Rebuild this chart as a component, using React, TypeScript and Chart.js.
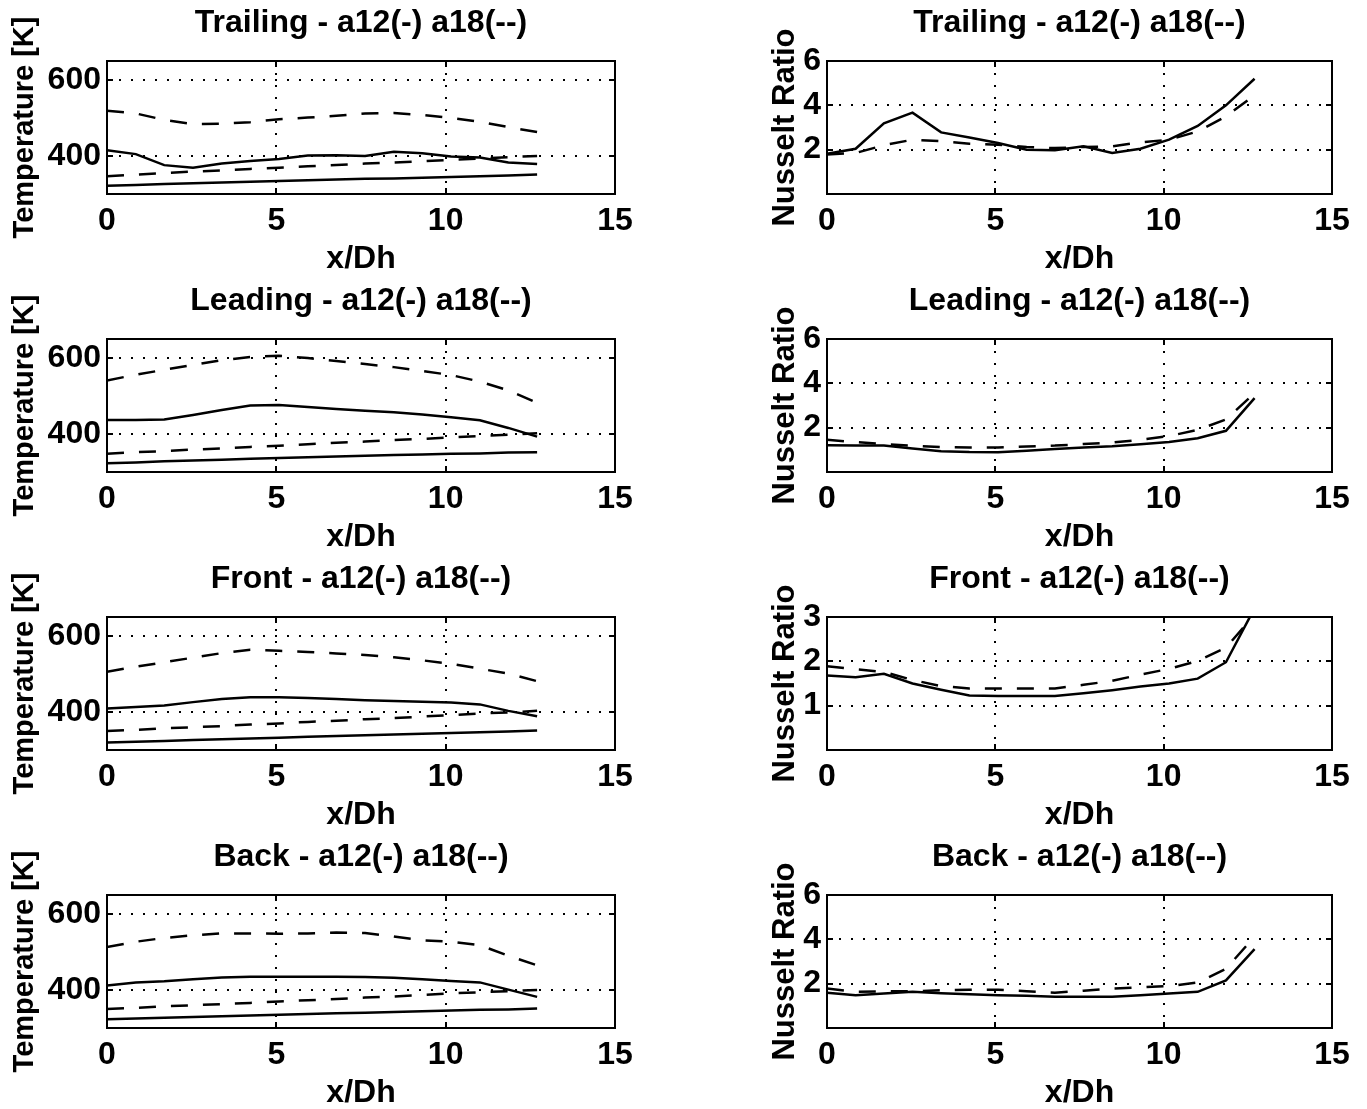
import React, { useEffect, useRef } from 'react';
import { Chart, registerables } from 'chart.js';

Chart.register(...registerables);

// Axial stations along the channel (x/Dh)
const XDH = [0, 0.85, 1.69, 2.54, 3.39, 4.23, 5.08, 5.93, 6.77, 7.62, 8.47, 9.31, 10.16, 11.01, 11.85, 12.7];

const X_TICKS = [0, 5, 10, 15];
const TEMP_TICKS = [400, 600];
const NU_TICKS = [2, 4, 6];
const NU_FRONT_TICKS = [1, 2, 3];

const TITLES = ['Trailing - a12(-) a18(--)', 'Leading - a12(-) a18(--)', 'Front - a12(-) a18(--)', 'Back - a12(-) a18(--)'];
const TEMP_LABEL = 'Temperature [K]';
const NU_LABEL = 'Nusselt Ratio';
const X_LABEL = 'x/Dh';

// Temperatures [K]: wall and bulk for the a12 (solid) and a18 (dashed) cases
const TRAIL_WALL_A12 = [415, 405, 376, 369, 380, 387, 392, 401, 402, 400, 411, 407, 399, 396, 383, 379];
const TRAIL_WALL_A18 = [519, 512, 495, 484, 485, 489, 497, 501, 506, 512, 513, 508, 500, 490, 476, 463];
const TRAIL_BULK_A12 = [322, 324, 326, 328, 330, 332, 334, 336, 338, 340, 341, 343, 345, 347, 349, 351];
const TRAIL_BULK_A18 = [347, 351, 355, 359, 362, 366, 369, 373, 376, 380, 383, 386, 390, 393, 397, 400];

const LEAD_WALL_A12 = [437, 437, 438, 450, 463, 475, 476, 471, 466, 461, 457, 451, 444, 436, 416, 393];
const LEAD_WALL_A18 = [541, 556, 569, 582, 594, 603, 606, 600, 592, 584, 576, 566, 555, 538, 515, 482];
const LEAD_BULK_A12 = [323, 325, 328, 330, 332, 335, 337, 339, 341, 343, 345, 346, 348, 349, 351, 352];
const LEAD_BULK_A18 = [348, 352, 355, 359, 362, 366, 369, 373, 377, 380, 384, 387, 391, 395, 398, 402];

const FRONT_WALL_A12 = [409, 413, 417, 426, 434, 439, 439, 437, 434, 431, 429, 427, 425, 420, 403, 389];
const FRONT_WALL_A18 = [506, 519, 531, 543, 555, 564, 561, 558, 554, 550, 544, 536, 527, 514, 501, 481];
const FRONT_BULK_A12 = [320, 322, 324, 326, 328, 330, 332, 335, 337, 339, 341, 343, 345, 347, 349, 351];
const FRONT_BULK_A18 = [350, 353, 357, 360, 363, 367, 370, 374, 377, 381, 384, 388, 392, 396, 399, 403];

const BACK_WALL_A12 = [412, 420, 423, 428, 433, 435, 435, 435, 435, 434, 432, 428, 424, 420, 401, 382];
const BACK_WALL_A18 = [513, 527, 537, 544, 549, 549, 548, 549, 551, 550, 541, 531, 527, 518, 490, 465];
const BACK_BULK_A12 = [323, 325, 327, 329, 331, 333, 335, 337, 339, 340, 342, 344, 346, 348, 349, 351];
const BACK_BULK_A18 = [350, 353, 357, 360, 363, 366, 370, 373, 376, 380, 383, 387, 391, 394, 397, 400];

// Nusselt number ratios
const TRAIL_NU_A12 = [1.82, 2.04, 3.19, 3.67, 2.78, 2.55, 2.3, 2.0, 1.97, 2.15, 1.85, 2.04, 2.45, 3.07, 4.0, 5.2];
const TRAIL_NU_A18 = [1.78, 1.85, 2.2, 2.45, 2.38, 2.27, 2.22, 2.12, 2.07, 2.12, 2.15, 2.33, 2.45, 2.82, 3.5, 4.46];
const LEAD_NU_A12 = [1.21, 1.2, 1.19, 1.06, 0.94, 0.9, 0.89, 0.96, 1.04, 1.1, 1.16, 1.25, 1.35, 1.52, 1.86, 3.33];
const LEAD_NU_A18 = [1.45, 1.35, 1.26, 1.18, 1.12, 1.11, 1.11, 1.15, 1.19, 1.26, 1.33, 1.45, 1.62, 1.9, 2.37, 3.56];
const FRONT_NU_A12 = [1.68, 1.64, 1.72, 1.5, 1.36, 1.23, 1.22, 1.22, 1.22, 1.28, 1.35, 1.43, 1.5, 1.61, 1.98, 3.2];
const FRONT_NU_A18 = [1.89, 1.82, 1.76, 1.58, 1.44, 1.39, 1.39, 1.39, 1.39, 1.47, 1.56, 1.7, 1.83, 2.01, 2.31, 3.05];
const BACK_NU_A12 = [1.59, 1.48, 1.56, 1.63, 1.57, 1.52, 1.48, 1.45, 1.41, 1.41, 1.41, 1.48, 1.56, 1.63, 2.15, 3.56];
const BACK_NU_A18 = [1.78, 1.63, 1.65, 1.66, 1.7, 1.72, 1.73, 1.66, 1.59, 1.68, 1.78, 1.84, 1.89, 2.05, 2.67, 4.12];

const FONT_FAMILY = "'Liberation Sans', Arial, Helvetica, sans-serif";
const FONT_SIZE = 32;
const FONT = { family: FONT_FAMILY, size: FONT_SIZE, weight: 'bold' as const, lineHeight: 1.2 };

const DASH = [17, 15];
const LINE_W = 2.5;

type Series = { values: number[]; dashed: boolean };
type PanelCfg = {
  title: string;
  yLabel: string;
  yLabelSize: number;
  yMin: number;
  yMax: number;
  yTicks: number[];
  series: Series[];
  row: number;
  col: number;
};

const tempPanel = (row: number, wallA12: number[], wallA18: number[], bulkA12: number[], bulkA18: number[]): PanelCfg => ({
  title: TITLES[row],
  yLabel: TEMP_LABEL,
  yLabelSize: 29,
  yMin: 300,
  yMax: 650,
  yTicks: TEMP_TICKS,
  series: [
    { values: wallA12, dashed: false },
    { values: bulkA12, dashed: false },
    { values: wallA18, dashed: true },
    { values: bulkA18, dashed: true },
  ],
  row,
  col: 0,
});

const nuPanel = (row: number, a12: number[], a18: number[], yMax: number, ticks: number[]): PanelCfg => ({
  title: TITLES[row],
  yLabel: NU_LABEL,
  yLabelSize: 31,
  yMin: 0,
  yMax,
  yTicks: ticks,
  series: [
    { values: a12, dashed: false },
    { values: a18, dashed: true },
  ],
  row,
  col: 1,
});

const PANELS: PanelCfg[] = [
  tempPanel(0, TRAIL_WALL_A12, TRAIL_WALL_A18, TRAIL_BULK_A12, TRAIL_BULK_A18),
  nuPanel(0, TRAIL_NU_A12, TRAIL_NU_A18, 6, NU_TICKS),
  tempPanel(1, LEAD_WALL_A12, LEAD_WALL_A18, LEAD_BULK_A12, LEAD_BULK_A18),
  nuPanel(1, LEAD_NU_A12, LEAD_NU_A18, 6, NU_TICKS),
  tempPanel(2, FRONT_WALL_A12, FRONT_WALL_A18, FRONT_BULK_A12, FRONT_BULK_A18),
  nuPanel(2, FRONT_NU_A12, FRONT_NU_A18, 3, NU_FRONT_TICKS),
  tempPanel(3, BACK_WALL_A12, BACK_WALL_A18, BACK_BULK_A12, BACK_BULK_A18),
  nuPanel(3, BACK_NU_A12, BACK_NU_A18, 6, NU_TICKS),
];

// Canvas geometry per column: plot box edges and label offsets
const ROW_PITCH = 278;
const CANVAS_H = 278;
const BOX_TOP = 61;
const BOX_H = 133;
const COLS = [
  { canvasLeft: 0, canvasW: 722, axisW: 107, padRight: 107, yTitleCenter: 25 },
  { canvasLeft: 740, canvasW: 680, axisW: 87, padRight: 88, yTitleCenter: 45 },
];

// Solid frame around the plot area with inward tick marks on all four sides
const framePlugin = {
  id: 'frame',
  afterDatasetsDraw(chart: any) {
    const { ctx, chartArea: a, scales } = chart;
    ctx.save();
    ctx.strokeStyle = '#000';
    ctx.lineWidth = 2;
    ctx.setLineDash([]);
    ctx.strokeRect(a.left, a.top, a.right - a.left, a.bottom - a.top);
    const len = 6;
    ctx.beginPath();
    scales.x.ticks.forEach((t: any) => {
      const px = Math.round(scales.x.getPixelForValue(t.value));
      ctx.moveTo(px, a.bottom);
      ctx.lineTo(px, a.bottom - len);
      ctx.moveTo(px, a.top);
      ctx.lineTo(px, a.top + len);
    });
    scales.y.ticks.forEach((t: any) => {
      const py = Math.round(scales.y.getPixelForValue(t.value));
      ctx.moveTo(a.left, py);
      ctx.lineTo(a.left + len, py);
      ctx.moveTo(a.right, py);
      ctx.lineTo(a.right - len, py);
    });
    ctx.stroke();
    ctx.restore();
  },
};

function Panel({ cfg }: { cfg: PanelCfg }) {
  const ref = useRef<HTMLCanvasElement>(null);
  const col = COLS[cfg.col];

  useEffect(() => {
    if (!ref.current) return;
    const yFont = { ...FONT, size: cfg.yLabelSize };
    const chart = new Chart(ref.current, {
      type: 'line',
      data: {
        datasets: cfg.series.map((s) => ({
          data: XDH.map((x, i) => ({ x, y: s.values[i] })),
          borderColor: '#000',
          borderWidth: LINE_W,
          borderDash: s.dashed ? DASH : [],
          pointRadius: 0,
          tension: 0,
          fill: false,
        })),
      },
      options: {
        animation: false,
        responsive: false,
        maintainAspectRatio: false,
        devicePixelRatio: 1,
        events: [],
        layout: { padding: { left: 0, right: col.padRight, top: 0, bottom: 0 } },
        plugins: {
          legend: { display: false },
          tooltip: { enabled: false },
          title: { display: false },
        },
        scales: {
          // top axis carries only the panel title, centred over the plot box
          top: {
            type: 'linear',
            position: 'top',
            min: 0,
            max: 15,
            afterFit: (s: any) => {
              s.height = BOX_TOP;
            },
            grid: { display: false, drawTicks: false },
            border: { display: false },
            ticks: { display: false },
            title: { display: true, text: cfg.title, color: '#000', font: FONT, padding: { top: 4, bottom: 0 } },
          },
          x: {
            type: 'linear',
            position: 'bottom',
            min: 0,
            max: 15,
            afterBuildTicks: (s: any) => {
              s.ticks = X_TICKS.map((v) => ({ value: v }));
            },
            afterFit: (s: any) => {
              s.height = CANVAS_H - BOX_TOP - BOX_H;
            },
            grid: { color: '#000', lineWidth: 2, drawTicks: false },
            border: { display: false, dash: [2, 10] },
            ticks: { color: '#000', font: FONT, padding: 8, maxRotation: 0, autoSkip: false },
            title: { display: true, text: X_LABEL, color: '#000', font: FONT, padding: { top: 0, bottom: 0 } },
          },
          y: {
            type: 'linear',
            position: 'left',
            min: cfg.yMin,
            max: cfg.yMax,
            afterBuildTicks: (s: any) => {
              s.ticks = cfg.yTicks.map((v) => ({ value: v }));
            },
            afterFit: (s: any) => {
              s.width = col.axisW;
            },
            grid: { color: '#000', lineWidth: 2, drawTicks: false },
            border: { display: false, dash: [2, 10] },
            ticks: { color: '#000', font: FONT, padding: 6, autoSkip: false },
            title: {
              display: true,
              text: cfg.yLabel,
              color: '#000',
              font: yFont,
              padding: { top: col.yTitleCenter - cfg.yLabelSize * 0.6, bottom: 0 },
            },
          },
        },
      },
      plugins: [framePlugin],
    } as any);
    return () => chart.destroy();
  }, [cfg]);

  return (
    <canvas
      ref={ref}
      width={col.canvasW}
      height={CANVAS_H}
      style={{
        position: 'absolute',
        left: col.canvasLeft,
        top: cfg.row * ROW_PITCH,
        width: col.canvasW,
        height: CANVAS_H,
      }}
    />
  );
}

export default function App() {
  return (
    <div
      style={{
        position: 'fixed',
        left: 0,
        top: 0,
        width: 1367,
        height: 1109,
        overflow: 'hidden',
        background: '#fff',
      }}
    >
      {PANELS.map((p, i) => (
        <Panel key={i} cfg={p} />
      ))}
    </div>
  );
}
